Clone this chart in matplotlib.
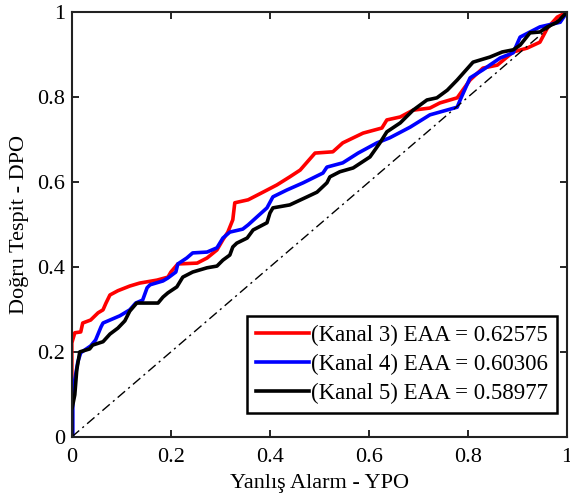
import numpy as np
import matplotlib
matplotlib.use('Agg')
import matplotlib.pyplot as plt

plt.rcParams['font.family'] = ['Liberation Serif', 'DejaVu Serif']

# ROC curves (false alarm rate, detection rate)
fpr_k3 = [0, 0, 0.006, 0.018, 0.022, 0.038, 0.053, 0.063, 0.069, 0.077, 0.093, 0.117, 0.137,
          0.172, 0.194, 0.2, 0.214, 0.253, 0.273, 0.293, 0.305, 0.315, 0.325, 0.329, 0.356,
          0.386, 0.414, 0.440, 0.461, 0.491, 0.527, 0.547, 0.588, 0.626, 0.636, 0.663, 0.689,
          0.723, 0.743, 0.778, 0.804, 0.830, 0.859, 0.891, 0.919, 0.945, 0.960, 0.980, 1.0]
tpr_k3 = [0, 0.221, 0.245, 0.247, 0.268, 0.275, 0.292, 0.299, 0.315, 0.334, 0.344, 0.355, 0.362,
          0.369, 0.376, 0.388, 0.407, 0.409, 0.421, 0.440, 0.464, 0.482, 0.511, 0.551, 0.558,
          0.576, 0.593, 0.612, 0.628, 0.668, 0.671, 0.692, 0.715, 0.727, 0.746, 0.753, 0.769,
          0.774, 0.786, 0.798, 0.840, 0.868, 0.875, 0.906, 0.915, 0.929, 0.962, 0.988, 1.0]

fpr_k4 = [0.002, 0.002, 0.006, 0.012, 0.018, 0.038, 0.048, 0.059, 0.063, 0.077, 0.097, 0.117,
          0.129, 0.143, 0.152, 0.158, 0.184, 0.194, 0.210, 0.214, 0.232, 0.244, 0.273, 0.293,
          0.305, 0.319, 0.345, 0.356, 0.374, 0.394, 0.406, 0.434, 0.467, 0.507, 0.515, 0.547,
          0.578, 0.616, 0.642, 0.683, 0.723, 0.778, 0.784, 0.804, 0.830, 0.865, 0.891, 0.905,
          0.945, 0.986, 1.0]
tpr_k4 = [0, 0.087, 0.134, 0.176, 0.198, 0.214, 0.228, 0.259, 0.268, 0.275, 0.285, 0.299,
          0.315, 0.322, 0.351, 0.358, 0.367, 0.374, 0.388, 0.407, 0.421, 0.433, 0.435, 0.445,
          0.468, 0.482, 0.489, 0.499, 0.518, 0.539, 0.565, 0.581, 0.598, 0.621, 0.635, 0.645,
          0.668, 0.692, 0.704, 0.729, 0.758, 0.776, 0.793, 0.845, 0.864, 0.892, 0.904, 0.941,
          0.965, 0.976, 1.0]

fpr_k5 = [0, 0, 0.006, 0.010, 0.016, 0.036, 0.042, 0.063, 0.077, 0.093, 0.107, 0.117, 0.131,
          0.174, 0.184, 0.194, 0.212, 0.224, 0.244, 0.273, 0.293, 0.305, 0.319, 0.325, 0.333,
          0.354, 0.366, 0.394, 0.400, 0.406, 0.440, 0.475, 0.495, 0.515, 0.521, 0.541, 0.568,
          0.602, 0.622, 0.636, 0.663, 0.689, 0.717, 0.737, 0.758, 0.778, 0.810, 0.844, 0.869,
          0.891, 0.905, 0.925, 0.945, 0.960, 0.980, 1.0]
tpr_k5 = [0, 0.064, 0.099, 0.158, 0.2, 0.207, 0.216, 0.224, 0.242, 0.256, 0.273, 0.296, 0.315,
          0.315, 0.329, 0.339, 0.353, 0.376, 0.388, 0.398, 0.402, 0.416, 0.428, 0.447, 0.456,
          0.468, 0.487, 0.504, 0.527, 0.539, 0.546, 0.565, 0.576, 0.598, 0.612, 0.624, 0.633,
          0.659, 0.692, 0.718, 0.739, 0.769, 0.793, 0.798, 0.816, 0.840, 0.882, 0.894, 0.906,
          0.911, 0.922, 0.951, 0.953, 0.965, 0.976, 1.0]

labels = ['(Kanal 3) EAA = 0.62575', '(Kanal 4) EAA = 0.60306', '(Kanal 5) EAA = 0.58977']
ticks = [0, 0.2, 0.4, 0.6, 0.8, 1]
tick_labels = ['0', '0.2', '0.4', '0.6', '0.8', '1']

fig = plt.figure(figsize=(5.7, 5.01), dpi=100)
ax = fig.add_axes([0.126, 0.128, 0.869, 0.848])

ax.plot(fpr_k3, tpr_k3, color='#ff0000', lw=2.6, label=labels[0])
ax.plot(fpr_k4, tpr_k4, color='#0000ff', lw=2.6, label=labels[1])
ax.plot(fpr_k5, tpr_k5, color='black', lw=2.6, label=labels[2])
ax.plot([0, 1], [0, 1], color='black', lw=1.0, linestyle=(0, (7, 3, 1.5, 3)))

ax.set_xlim(0, 1)
ax.set_ylim(0, 1)
ax.set_xticks(ticks)
ax.set_xticklabels(tick_labels)
ax.set_yticks(ticks)
ax.set_yticklabels(tick_labels)
ax.tick_params(direction='in', top=True, right=True, length=5, width=1.2, labelsize=16)
ax.tick_params(axis='x', pad=8)
ax.tick_params(axis='y', pad=5)
for s in ax.spines.values():
    s.set_linewidth(1.5)
    s.set_color('#222222')

ax.set_xlabel('Yanlış Alarm - YPO', fontsize=16, labelpad=5)
ax.set_ylabel('Doğru Tespit - DPO', fontsize=16, labelpad=6)

leg = ax.legend(loc='lower right', bbox_to_anchor=(0.98, 0.056), borderaxespad=0,
                fontsize=16.5, fancybox=False, edgecolor='black', framealpha=1,
                handlelength=2.3, handletextpad=0.1, labelspacing=0.33, borderpad=0.4)
leg.get_frame().set_linewidth(1.8)

fig.savefig('out.png', dpi=100)
